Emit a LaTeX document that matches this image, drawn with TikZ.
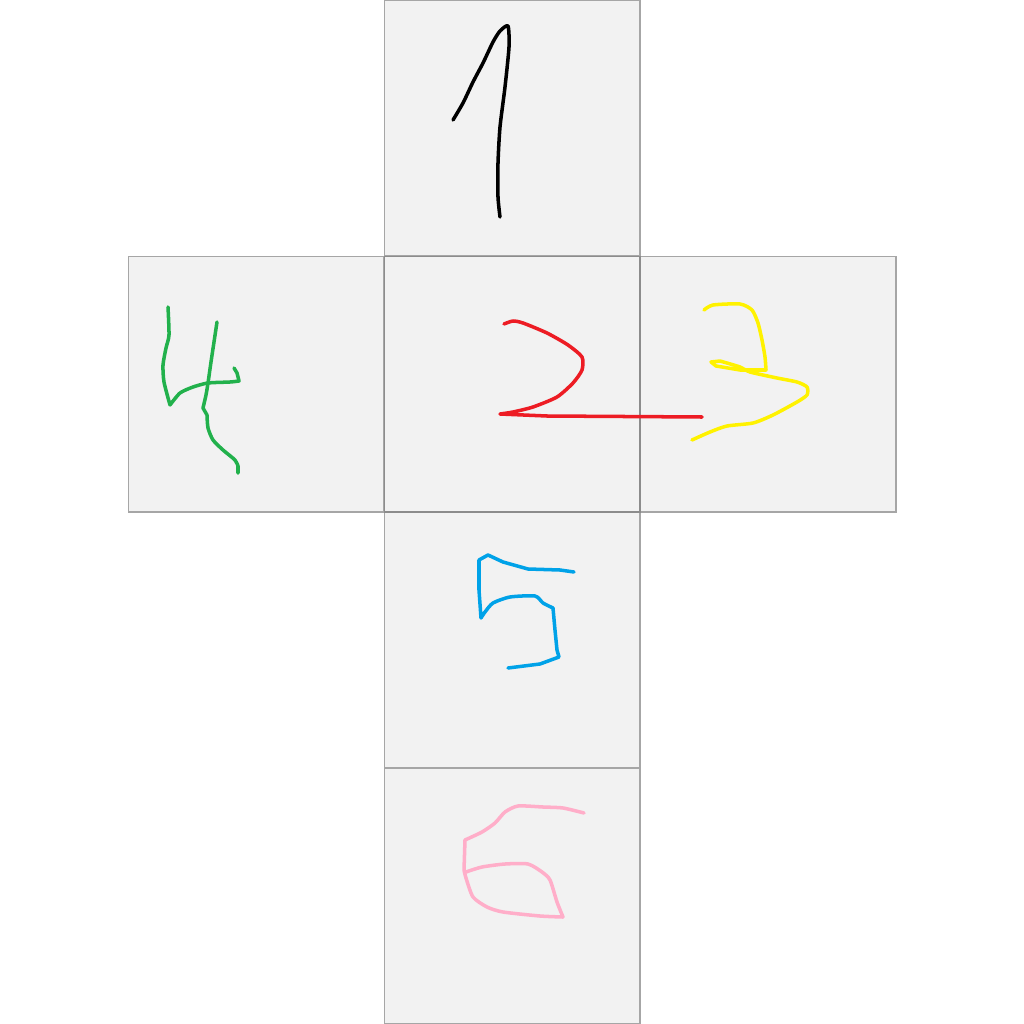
\documentclass[tikz,border=0pt]{standalone}
\usepackage{xcolor}
\usepackage{tikz}
\definecolor{penred}{HTML}{ED1C24}
\definecolor{penyellow}{HTML}{FFF200}
\definecolor{pengreen}{HTML}{22B14C}
\definecolor{penblue}{HTML}{00A2E8}
\definecolor{penpink}{HTML}{FFAEC9}

\begin{document}
\begin{tikzpicture}[
  x=0.02cm,y=-0.02cm,
  face/.style={draw=black!35,fill=black!5,line width=0.6pt,inner sep=0pt,
    minimum size=5.12cm},
  pen/.style={line width=2pt,line cap=round,line join=round}
]
\useasboundingbox (0,0) rectangle (1024,1024);
\node[face] (face1) at (512,128) {};
\node[face] (face4) at (256,384) {};
\node[face] (face3) at (768,384) {};
\node[face] (face5) at (512,640) {};
\node[face] (face6) at (512,896) {};
\node[face,draw=black!45] (face2) at (512,384) {};
% one
\draw[pen,black] plot[smooth,tension=0.4] coordinates{(453,120) (463,103)
  (473,82) (483,63) (493,42) (500,31) (508,26) (509,47) (505,87) (500,127)
  (498,163) (498,197) (500,217)};
% two
\draw[pen,penred] plot[smooth,tension=0.4] coordinates{(504,324) (513,321)
  (523,323) (547,333) (568,345) (582,357) (582,370) (573,383) (557,397)
  (533,407) (513,412) (500,414)} -- (547,416) -- (702,417);
% three
\draw[pen,penyellow] plot[smooth,tension=0.4] coordinates{(704,310) (713,305)
  (740,304) (752,310) (758,323) (762,340) (765,357) (766,370)}
  -- (740,370) -- (716,366) -- (711,362) -- (720,361)
  plot[smooth,tension=0.4] coordinates{(720,361) (740,367) (750,372)
  (777,378) (797,382) (807,387) (807,395) (797,402) (773,415) (753,423)
  (727,426) (710,432) (692,440)};
% four
\draw[pen,pengreen] plot[smooth,tension=0.4] coordinates{(168,307) (169,335)
  (166,348) (163,365) (164,382) (170,405)}
  plot[smooth,tension=0.4] coordinates{(170,405) (180,393) (193,387)
  (208,383) (230,382) (239,381)} -- (237,373) -- (234,368);
\draw[pen,pengreen] plot[smooth,tension=0.4] coordinates{(217,322) (214,342)
  (211,362) (208,383) (206,395) (203,408)} -- (207,415)
  plot[smooth,tension=0.4] coordinates{(207,415) (208,428) (213,440)
  (223,450) (235,460) (238,466)} -- (238,473);
% five
\draw[pen,penblue] (574,572) -- (560,570) -- (528,569) -- (503,562)
  -- (488,555) -- (479,560) -- (479,590) -- (481,618)
  plot[smooth,tension=0.4] coordinates{(481,618) (485,612) (493,603)
  (510,597) (535,596) (543,603) (553,608)} -- (555,630) -- (557,650)
  -- (559,657) -- (540,664) -- (508,668);
% six
\draw[pen,penpink] plot[smooth,tension=0.4] coordinates{(584,813) (563,808)
  (543,807) (518,806) (505,812) (495,823) (482,832) (465,840)}
  -- (464,870) plot[smooth,tension=0.4] coordinates{(464,870) (466,878)
  (473,897) (487,907) (503,912) (540,916) (563,917)}
  plot[smooth,tension=0.4] coordinates{(563,917) (557,902) (550,880)
  (542,872) (528,864) (505,864) (482,867) (466,872)};
\end{tikzpicture}
\end{document}
